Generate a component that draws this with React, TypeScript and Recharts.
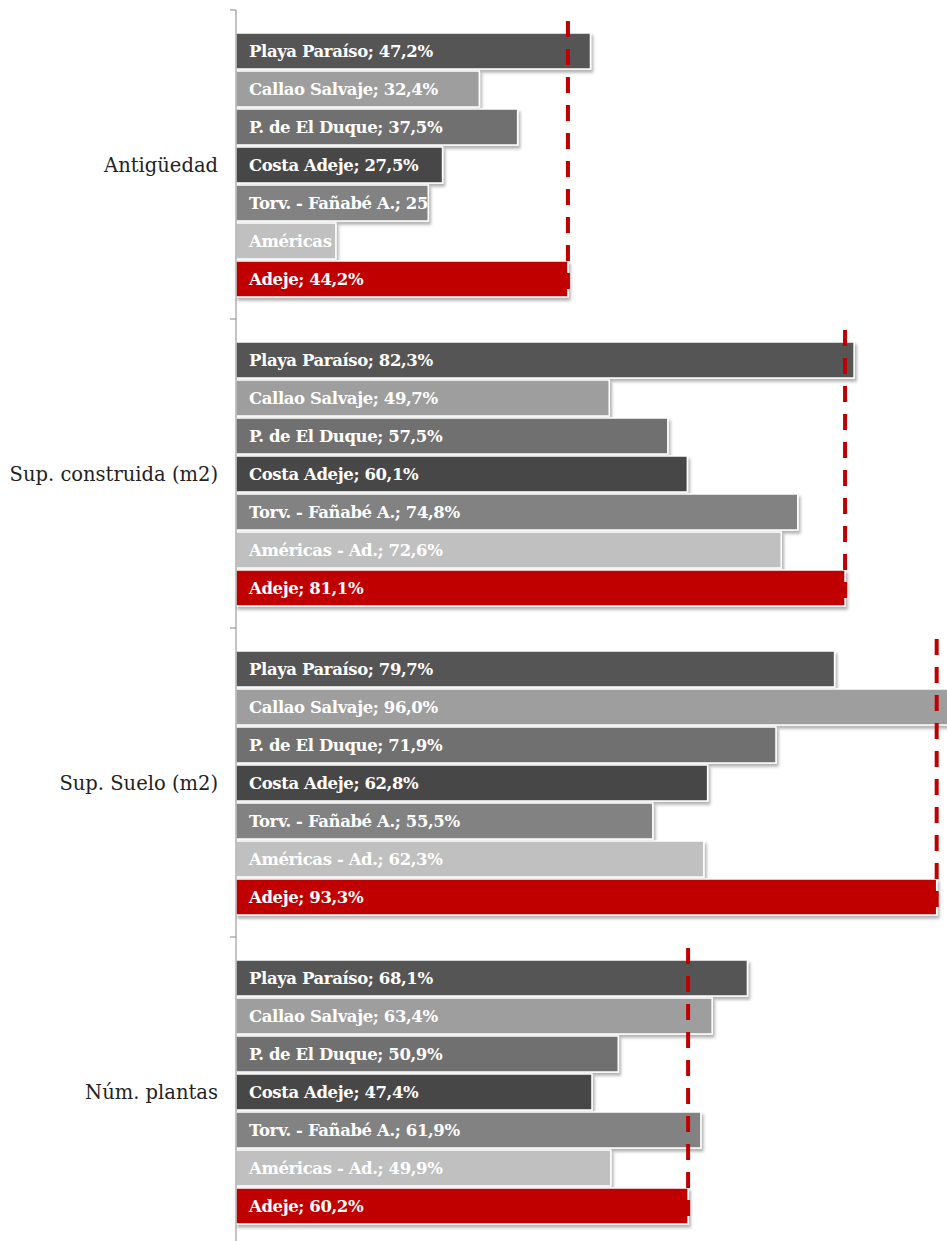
import React from "react";
import { BarChart, Bar, XAxis, YAxis } from "recharts";

const categories = ["Antigüedad", "Sup. construida (m2)", "Sup. Suelo (m2)", "Núm. plantas"];

const seriesNames = [
  "Playa Paraíso",
  "Callao Salvaje",
  "P. de El Duque",
  "Costa Adeje",
  "Torv. - Fañabé A.",
  "Américas - Ad.",
  "Adeje",
];

const playaParaiso = [47.2, 82.3, 79.7, 68.1];
const callaoSalvaje = [32.4, 49.7, 96.0, 63.4];
const duque = [37.5, 57.5, 71.9, 50.9];
const costaAdeje = [27.5, 60.1, 62.8, 47.4];
const torvFanabe = [25.6, 74.8, 55.5, 61.9];
const americas = [13.3, 72.6, 62.3, 49.9];
const adeje = [44.2, 81.1, 93.3, 60.2];

const seriesValues = [playaParaiso, callaoSalvaje, duque, costaAdeje, torvFanabe, americas, adeje];
const seriesColors = ["#555555", "#9e9e9e", "#6f6f6f", "#474747", "#828282", "#c0c0c0", "#c00000"];

const data = categories.map((cat, i) => {
  const row: Record<string, any> = { cat };
  seriesNames.forEach((s, j) => (row[s] = seriesValues[j][i]));
  return row;
});

const BAR_GAP = 2;
const fmt = (v: number) => v.toFixed(1).replace(".", ",") + "%";

function BarShape(props: any) {
  const { x, y, width, height, fill, index, series, isLast } = props;
  const v = props.payload[series];
  const id = `clip-${seriesNames.indexOf(series)}-${index}`;
  const groupTop = y - 6 * (height + BAR_GAP) - 12;
  return (
    <g>
      <defs>
        <clipPath id={id}>
          <rect x={x} y={y} width={width} height={height} />
        </clipPath>
      </defs>
      <rect x={x} y={y} width={width} height={height} fill={fill} stroke="#ffffff" strokeWidth={1.5} filter="url(#barShadow)" />
      <text
        x={x + 13}
        y={y + height / 2}
        dy="0.36em"
        fill="#ffffff"
        fontFamily="'DejaVu Serif', serif"
        fontWeight="bold"
        fontSize={16.5}
        letterSpacing={-0.4}
        clipPath={`url(#${id})`}
      >
        {`${series}; ${fmt(v)}`}
      </text>
      {isLast && (
        <line
          x1={x + width}
          x2={x + width}
          y1={groupTop}
          y2={y + height + 2}
          stroke="#c00000"
          strokeWidth={4}
          strokeDasharray="16 12"
        />
      )}
    </g>
  );
}

function CatTick(props: any) {
  const { x, y, payload } = props;
  const half = payload.offset ?? 154.5;
  return (
    <g>
      <line x1={x - 6} x2={x} y1={y - half} y2={y - half} stroke="#888888" strokeWidth={1} />
      <text x={x - 18} y={y} dy="0.36em" textAnchor="end" fill="#222222" fontFamily="'DejaVu Serif', serif" fontSize={19.5}>
        {payload.value}
      </text>
    </g>
  );
}

export default function App() {
  return (
    <div style={{ position: "absolute", left: 0, top: 0, width: 947, height: 1241, overflow: "hidden", background: "#fff" }}>
      <svg width={0} height={0} style={{ position: "absolute" }}>
        <defs>
          <filter id="barShadow" x="-5%" y="-20%" width="115%" height="160%">
            <feDropShadow dx={2} dy={3} stdDeviation={1.8} floodColor="#000" floodOpacity={0.3} />
          </filter>
        </defs>
      </svg>
      <BarChart
        width={990}
        height={1246}
        data={data}
        layout="vertical"
        margin={{ top: 10, right: 3, bottom: 0, left: 0 }}
        barCategoryGap={23}
        barGap={BAR_GAP}
      >
        <XAxis type="number" domain={[0, 100]} hide />
        <YAxis
          type="category"
          dataKey="cat"
          width={236}
          axisLine={{ stroke: "#888888" }}
          tickLine={false}
          tickSize={0}
          tickMargin={0}
          tick={<CatTick />}
          interval={0}
        />
        {seriesNames.map((s, j) => (
          <Bar
            key={s}
            dataKey={s}
            fill={seriesColors[j]}
            isAnimationActive={false}
            shape={(p: any) => <BarShape {...p} series={s} isLast={j === seriesNames.length - 1} />}
          />
        ))}
      </BarChart>
    </div>
  );
}
